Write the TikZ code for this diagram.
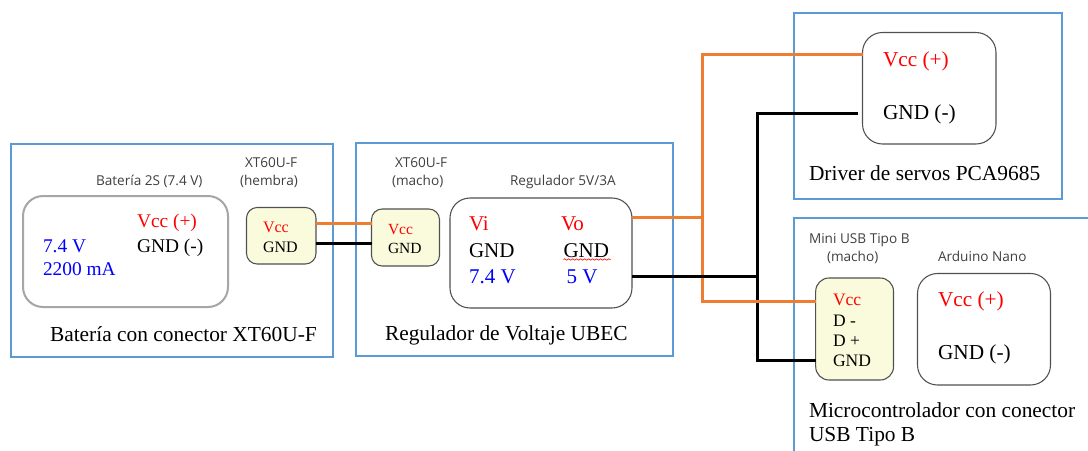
\documentclass[tikz,border=0pt]{standalone}
\usepackage{fontspec}
\setmainfont{Liberation Serif}
\newfontfamily\labelfont{Open Sans}
\usetikzlibrary{decorations.pathmorphing}
\definecolor{framec}{HTML}{5B9BD5}
\definecolor{wireo}{HTML}{ED7D31}
\definecolor{yell}{HTML}{FAFBDC}
\definecolor{edgec}{HTML}{505050}
\definecolor{blu}{HTML}{0000FF}
\newcommand\pxf[1]{\fontsize{\dimexpr#1pt*3/4\relax}{\dimexpr#1pt\relax}\selectfont}
\tikzset{
 frameb/.style={draw=framec,line width=1.5pt,fill=none},
 block/.style={draw=edgec,line width=0.8pt,fill=white,rounded corners=15pt},
 batt/.style={draw=black!35,line width=1.5pt,fill=white,rounded corners=15pt},
 conn/.style={draw=edgec,line width=0.8pt,fill=yell,rounded corners=8pt},
 wo/.style={draw=wireo,line width=2.25pt},
 wk/.style={draw=black,line width=2.25pt},
 txt/.style={anchor=base west,inner sep=0pt,outer sep=0pt},
 capt/.style={txt,text=black!75,font=\labelfont\pxf{13.6}},
 ttl/.style={txt,text=black,font=\pxf{21.4}},
 sred/.style={txt,text=red},
 sblk/.style={txt,text=black},
 sblu/.style={txt,text=blu},
}
\begin{document}
\begin{tikzpicture}[x=0.75pt,y=-0.75pt]
\useasboundingbox (0,0) rectangle (1088,450);
\clip (0,0) rectangle (1088,450);
\fill[white] (0,0) rectangle (1088,450);
% frames
\node[frameb,minimum width=322*0.75pt,minimum height=213*0.75pt,inner sep=0pt,outer sep=0pt,anchor=north west] (f1) at (11,144) {};
\node[frameb,minimum width=317*0.75pt,minimum height=213*0.75pt,inner sep=0pt,outer sep=0pt,anchor=north west] (f2) at (356,143) {};
\node[frameb,minimum width=268*0.75pt,minimum height=186*0.75pt,inner sep=0pt,outer sep=0pt,anchor=north west] (f3) at (794,13) {};
\draw[frameb] (1095,218) -- (794,218) -- (794,460);
% blocks
\node[batt,minimum width=205*0.75pt,minimum height=111*0.75pt,inner sep=0pt,outer sep=0pt,anchor=north west] (bat) at (23,196) {};
\node[conn,minimum width=69.5*0.75pt,minimum height=56.5*0.75pt,inner sep=0pt,outer sep=0pt,anchor=north west] (ya) at (246.5,207.5) {};
\node[conn,minimum width=68*0.75pt,minimum height=57*0.75pt,inner sep=0pt,outer sep=0pt,anchor=north west] (yb) at (371.5,209) {};
\node[block,minimum width=182*0.75pt,minimum height=110*0.75pt,inner sep=0pt,outer sep=0pt,anchor=north west] (reg) at (450,198) {};
\node[block,minimum width=133.5*0.75pt,minimum height=111.5*0.75pt,inner sep=0pt,outer sep=0pt,anchor=north west] (drv) at (862.5,32.5) {};
\node[conn,rounded corners=10pt,minimum width=77.8*0.75pt,minimum height=102*0.75pt,inner sep=0pt,outer sep=0pt,anchor=north west] (yc) at (815.7,278) {};
\node[block,minimum width=133*0.75pt,minimum height=111.5*0.75pt,inner sep=0pt,outer sep=0pt,anchor=north west] (ard) at (917.5,273.5) {};
% wire coordinates
\coordinate (oj) at (702.5,217.5);
\coordinate (kj) at (757.5,276.5);
\coordinate (kd) at (857.7,113.5);
% wires
\draw[wo] (ya.east |- 0,223.5) -- (yb.west |- 0,223.5);
\draw[wk] (ya.east |- 0,243.5) -- (yb.west |- 0,243.5);
\draw[wk] (kd) -| (kj) |- (yc.west |- 0,360.5);
\draw[wo] (reg.east |- oj) -- (oj);
\draw[wo] (drv.west |- 0,54.5) -| (oj) |- (yc.west |- 0,301.5);
\draw[wk] (reg.east |- kj) -- (kj);
% captions
\node[capt] (c1) at (96,185) {Batería 2S (7.4 V)};
\node[capt] (c2) at (245,167) {XT60U-F};
\node[capt] (c3) at (240,185) {(hembra)};
\node[capt] (c4) at (395,167) {XT60U-F};
\node[capt] (c5) at (392,185) {(macho)};
\node[capt] (c6) at (510,185) {Regulador 5V/3A};
\node[capt] (c7) at (809,243) {Mini USB Tipo B};
\node[capt] (c8) at (827,261) {(macho)};
\node[capt] (c9) at (938,261) {Arduino Nano};
% battery
\node[sred,font=\pxf{19.4}] (t1) at (137,227) {Vcc (+)};
\node[sblk,font=\pxf{19.4}] (t2) at (137,252) {GND (-)};
\node[sblu,font=\pxf{19.4}] (t3) at (43,252) {7.4 V};
\node[sblu,font=\pxf{19.4}] (t4) at (43,275) {2200 mA};
% yellow A,B
\node[sred,font=\pxf{16}] (t5) at (263,232) {Vcc};
\node[sblk,font=\pxf{16}] (t6) at (263,252) {GND};
\node[sred,font=\pxf{15.5}] (t7) at (388,234) {Vcc};
\node[sblk,font=\pxf{15.5}] (t8) at (388,253) {GND};
% regulator
\node[sred,font=\pxf{21}] (t9) at (469,230) {Vi};
\node[sred,font=\pxf{21}] (t10) at (561,230) {Vo};
\node[sblk,font=\pxf{21}] (t11) at (469,257) {GND};
\node[sblk,font=\pxf{21}] (t12) at (563.5,257) {GND};
\node[sblu,font=\pxf{21}] (t13) at (469,283) {7.4 V};
\node[sblu,font=\pxf{21}] (t14) at (566.7,283) {5 V};
\draw[red,line width=0.5pt,decorate,decoration={snake,amplitude=0.5pt,segment length=3pt}] (t12.base west) ++(0,2.5) -- ++(47,0);
% driver
\node[sred,font=\pxf{21.3}] (t15) at (883,66.7) {Vcc (+)};
\node[sblk,font=\pxf{21.3}] (t16) at (883,119) {GND (-)};
% usb
\node[sred,font=\pxf{17.5}] (t17) at (833,305.6) {Vcc};
\node[sblk,font=\pxf{17.5}] (t18) at (833,326) {D -};
\node[sblk,font=\pxf{17.5}] (t19) at (833,346) {D +};
\node[sblk,font=\pxf{17.5}] (t20) at (833,366) {GND};
% arduino
\node[sred,font=\pxf{21.3}] (t21) at (938,306.7) {Vcc (+)};
\node[sblk,font=\pxf{21.3}] (t22) at (938,359) {GND (-)};
% titles
\node[ttl] (h1) at (50,341) {Batería con conector XT60U-F};
\node[ttl] (h2) at (385,340) {Regulador de Voltaje UBEC};
\node[ttl] (h3) at (809,180) {Driver de servos PCA9685};
\node[ttl] (h4) at (809,417) {Microcontrolador con conector};
\node[ttl] (h5) at (809,441.6) {USB Tipo B};
\end{tikzpicture}
\end{document}
